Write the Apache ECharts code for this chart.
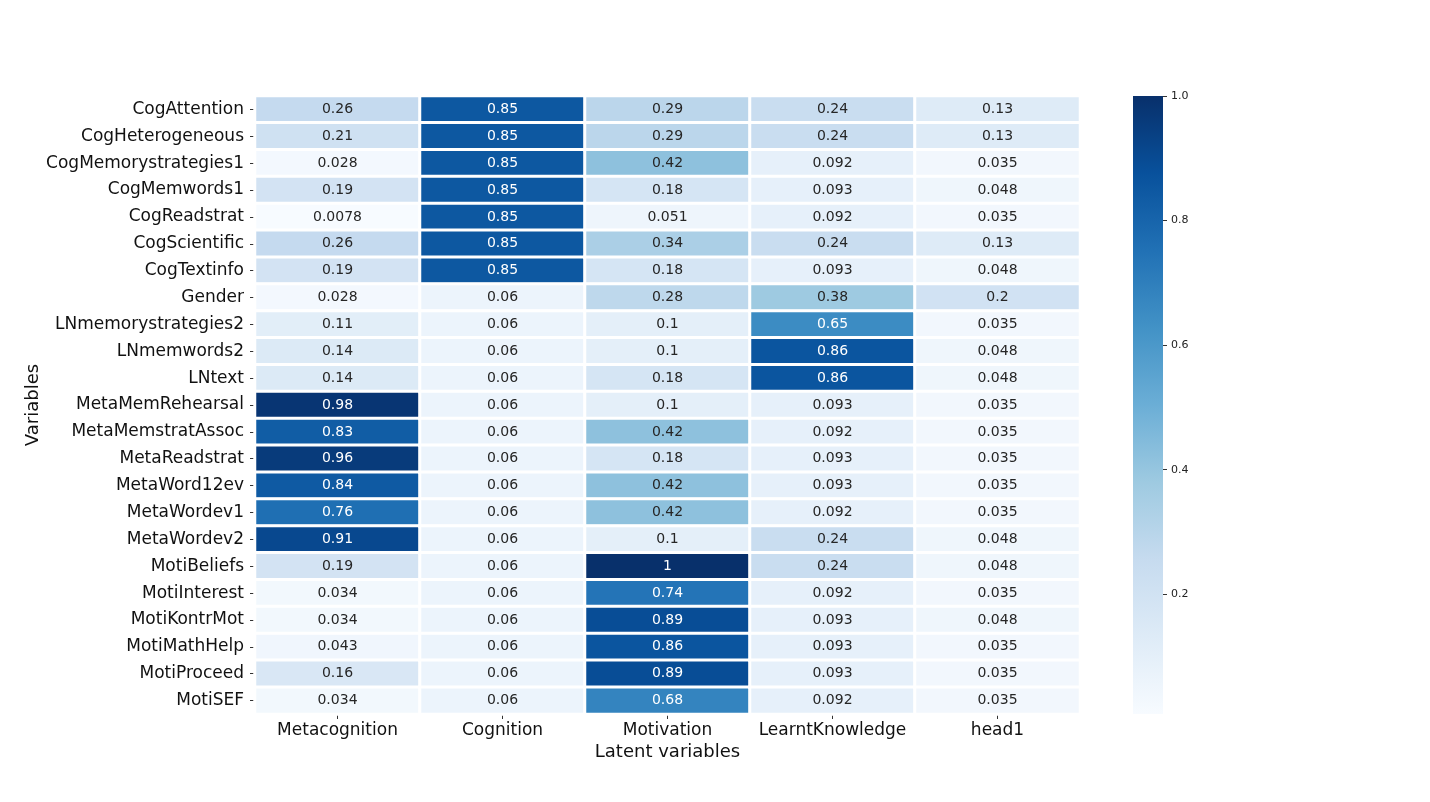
<!DOCTYPE html>
<html>
<head>
<meta charset="utf-8">
<script src="https://cdn.jsdelivr.net/npm/echarts@6/dist/echarts.min.js"></script>
<style>
html,body{margin:0;padding:0;background:#fff;}
#main{width:1430px;height:802px;}
</style>
</head>
<body>
<div id="main"></div>
<script>
const columns = ['Metacognition','Cognition','Motivation','LearntKnowledge','head1'];
const rows = ['CogAttention','CogHeterogeneous','CogMemorystrategies1','CogMemwords1','CogReadstrat','CogScientific','CogTextinfo','Gender','LNmemorystrategies2','LNmemwords2','LNtext','MetaMemRehearsal','MetaMemstratAssoc','MetaReadstrat','MetaWord12ev','MetaWordev1','MetaWordev2','MotiBeliefs','MotiInterest','MotiKontrMot','MotiMathHelp','MotiProceed','MotiSEF'];
const metacognition = [0.26,0.21,0.028,0.19,0.0078,0.26,0.19,0.028,0.11,0.14,0.14,0.98,0.83,0.96,0.84,0.76,0.91,0.19,0.034,0.034,0.043,0.16,0.034];
const cognition = [0.85,0.85,0.85,0.85,0.85,0.85,0.85,0.06,0.06,0.06,0.06,0.06,0.06,0.06,0.06,0.06,0.06,0.06,0.06,0.06,0.06,0.06,0.06];
const motivation = [0.29,0.29,0.42,0.18,0.051,0.34,0.18,0.28,0.1,0.1,0.18,0.1,0.42,0.18,0.42,0.42,0.1,1,0.74,0.89,0.86,0.89,0.68];
const learntKnowledge = [0.24,0.24,0.092,0.093,0.092,0.24,0.093,0.38,0.65,0.86,0.86,0.093,0.092,0.093,0.093,0.092,0.24,0.24,0.092,0.093,0.093,0.093,0.092];
const head1 = [0.13,0.13,0.035,0.048,0.035,0.13,0.048,0.2,0.035,0.048,0.048,0.035,0.035,0.035,0.035,0.035,0.048,0.048,0.035,0.048,0.035,0.035,0.035];
const colorbarTicks = [0.2,0.4,0.6,0.8,1.0];

const seriesCols = [metacognition, cognition, motivation, learntKnowledge, head1];
const blues = ['#f7fbff','#deebf7','#c6dbef','#9ecae1','#6baed6','#4292c6','#2171b5','#08519c','#08306b'];
let vmin = Infinity, vmax = -Infinity;
seriesCols.forEach(c => c.forEach(v => { vmin = Math.min(vmin, v); vmax = Math.max(vmax, v); }));

const data = [];
seriesCols.forEach((col, xi) => {
  col.forEach((v, yi) => {
    data.push({
      value: [xi, yi, v],
      label: { color: v > 0.48 ? '#ffffff' : '#262626' }
    });
  });
});

const gradStops = blues.map((c, i) => ({ offset: 1 - i / 8, color: c }));

const chart = echarts.init(document.getElementById('main'));
const font = 'DejaVu Sans';
chart.setOption({
  backgroundColor: '#ffffff',
  animation: false,
  textStyle: { fontFamily: font },
  grid: [
    { left: 255, right: 350, top: 96, bottom: 88 },
    { left: 1133, width: 30, top: 96, bottom: 88, show: true, borderWidth: 0,
      backgroundColor: { type: 'linear', x: 0, y: 0, x2: 0, y2: 1, colorStops: gradStops } }
  ],
  xAxis: [
    { type: 'category', gridIndex: 0, data: columns, position: 'bottom',
      axisLine: { show: false },
      axisTick: { show: true, alignWithLabel: true, length: 5, lineStyle: { color: '#333' } },
      axisLabel: { fontSize: 17, color: '#111', margin: 8, interval: 0, fontFamily: font },
      splitLine: { show: false },
      name: 'Latent variables', nameLocation: 'middle', nameGap: 29, nameMoveOverlap: false,
      nameTextStyle: { fontSize: 18, color: '#111', fontFamily: font } },
    { type: 'value', gridIndex: 1, show: false, min: 0, max: 1 }
  ],
  yAxis: [
    { type: 'category', gridIndex: 0, data: rows, inverse: true,
      axisLine: { show: false },
      axisTick: { show: true, alignWithLabel: true, length: 5, lineStyle: { color: '#333' } },
      axisLabel: { fontSize: 17, color: '#111', margin: 11, interval: 0, fontFamily: font },
      splitLine: { show: false },
      name: 'Variables', nameLocation: 'middle', nameRotate: 90, nameGap: 213, nameMoveOverlap: false,
      nameTextStyle: { fontSize: 18, color: '#111', fontFamily: font } },
    { type: 'value', gridIndex: 1, position: 'right', min: vmin, max: vmax,
      axisLine: { show: false, onZero: false },
      axisTick: { show: true, length: 4, inside: false, customValues: colorbarTicks, lineStyle: { color: '#333' } },
      axisLabel: { show: true, fontSize: 11, color: '#222', margin: 8, fontFamily: font,
        customValues: colorbarTicks, formatter: v => Number(v).toFixed(1) },
      splitLine: { show: false } }
  ],
  visualMap: {
    show: false, type: 'continuous', min: vmin, max: vmax, dimension: 2, seriesIndex: 0,
    inRange: { color: blues }
  },
  series: [{
    type: 'heatmap', xAxisIndex: 0, yAxisIndex: 0, data: data,
    itemStyle: { borderColor: '#ffffff', borderWidth: 3 },
    label: { show: true, fontSize: 14, fontFamily: font, formatter: p => String(p.value[2]) },
    emphasis: { disabled: true }
  }]
});
</script>
</body>
</html>
